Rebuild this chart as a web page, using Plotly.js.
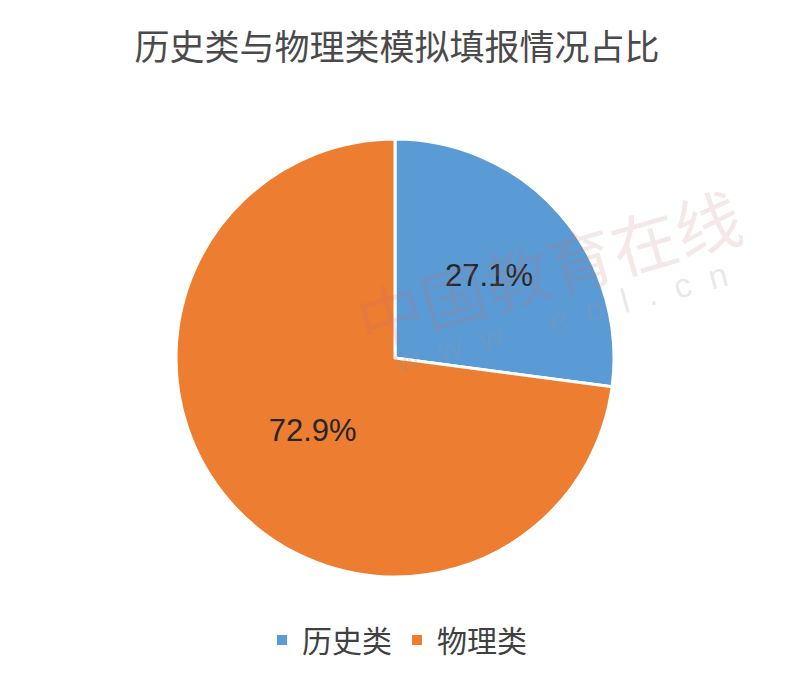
<!DOCTYPE html>
<html>
<head>
<meta charset="utf-8">
<script src="https://cdn.plot.ly/plotly-3.0.1.min.js"></script>
<style>html,body{margin:0;padding:0;background:#fff;}#chart{width:794px;height:698px;}</style>
</head>
<body>
<div id="chart"></div>
<script>
const categories = ["历史类", "物理类"];
const shares = [27.1, 72.9];
const colors = ["#5B9BD5", "#ED7D31"];
const titleText = "历史类与物理类模拟填报情况占比";

const W = 794, H = 698;
const cx = 395, cy = 358, r = 219;

const trace = {
  type: "pie",
  labels: categories,
  values: shares,
  sort: false,
  direction: "clockwise",
  rotation: 0,
  marker: { colors: colors, line: { color: "#ffffff", width: 3 } },
  textinfo: "text",
  text: shares.map(v => v.toFixed(1) + "%"),
  textposition: "inside",
  insidetextorientation: "horizontal",
  textfont: { family: "Liberation Sans, Arial, sans-serif", size: 31, color: "#262626" },
  hoverinfo: "label+percent",
  domain: {
    x: [(cx - r) / W, (cx + r) / W],
    y: [(H - cy - r) / H, (H - cy + r) / H]
  }
};

const layout = {
  width: W, height: H,
  margin: { l: 0, r: 0, t: 0, b: 0 },
  paper_bgcolor: "#ffffff",
  title: {
    text: titleText,
    x: 0.5, xanchor: "center",
    y: 1 - 48 / H, yanchor: "middle",
    font: { family: "Noto Sans CJK SC, sans-serif", size: 35, color: "#4a4a4a" }
  },
  showlegend: true,
  legend: {
    orientation: "h",
    x: 0.5, xanchor: "center",
    y: 1 - 640 / H, yanchor: "middle",
    font: { family: "Noto Sans CJK SC, sans-serif", size: 30, color: "#404040" },
    itemsizing: "constant"
  },
  annotations: [
    {
      text: "中国教育在线",
      xref: "paper", yref: "paper",
      x: 548 / W, y: 1 - 266 / H,
      xanchor: "center", yanchor: "middle",
      showarrow: false, textangle: -16,
      font: { family: "Noto Sans CJK SC, sans-serif", size: 66, color: "rgba(190,110,110,0.16)" }
    },
    {
      text: "w  w  w  .  e  o  l  .  c  n",
      xref: "paper", yref: "paper",
      x: 560 / W, y: 1 - 318 / H,
      xanchor: "center", yanchor: "middle",
      showarrow: false, textangle: -15,
      font: { family: "Liberation Sans, sans-serif", size: 34, color: "rgba(150,150,150,0.22)" }
    }
  ]
};

Plotly.newPlot("chart", [trace], layout, { displayModeBar: false, staticPlot: true });
</script>
</body>
</html>
